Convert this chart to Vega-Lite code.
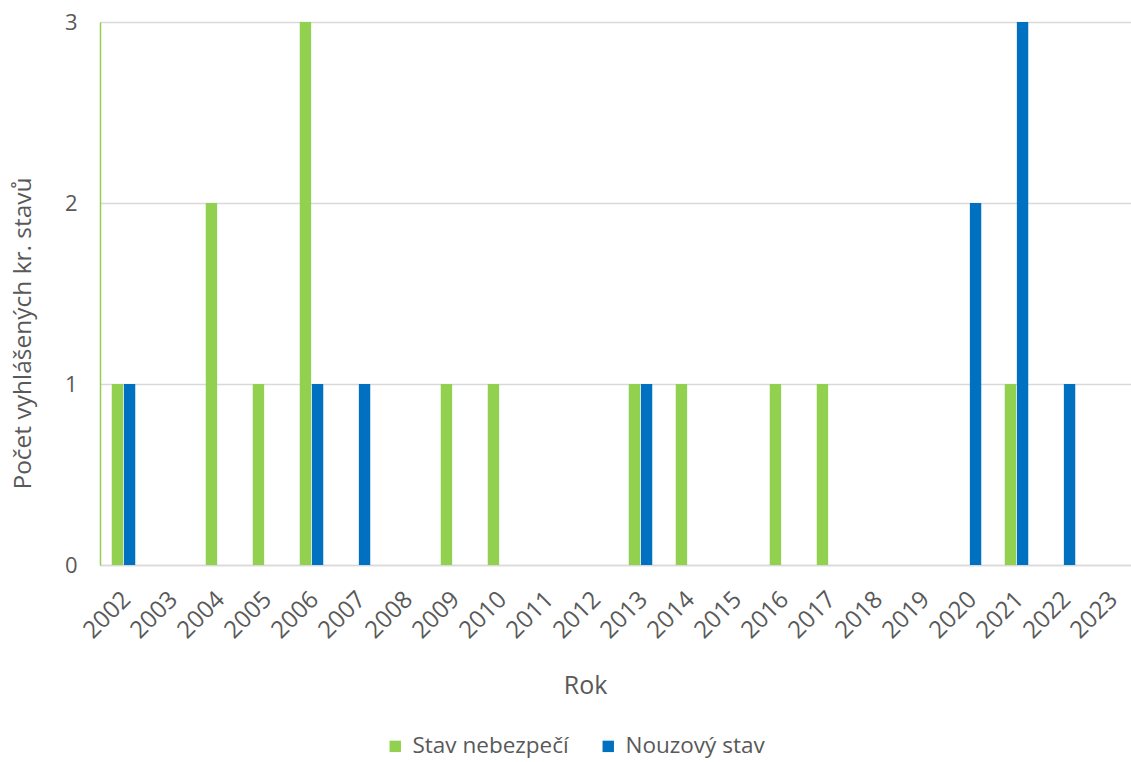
{
  "$schema": "https://vega.github.io/schema/vega-lite/v6.json",
  "autosize": {"type": "none"},
  "padding": {"left": 100, "top": 22, "right": 0, "bottom": 197},
  "width": 1034,
  "height": 543,
  "background": "white",
  "config": {
    "font": "Open Sans",
    "view": {"stroke": null},
    "axis": {"labelColor": "#595959", "titleColor": "#595959", "titleFontWeight": "normal"},
    "legend": {"labelColor": "#595959"}
  },
  "data": {
    "values": [
      {"Rok": "2002", "Stav": "Stav nebezpečí", "Pocet": 1},
      {"Rok": "2002", "Stav": "Nouzový stav", "Pocet": 1},
      {"Rok": "2003", "Stav": "Stav nebezpečí", "Pocet": 0},
      {"Rok": "2003", "Stav": "Nouzový stav", "Pocet": 0},
      {"Rok": "2004", "Stav": "Stav nebezpečí", "Pocet": 2},
      {"Rok": "2004", "Stav": "Nouzový stav", "Pocet": 0},
      {"Rok": "2005", "Stav": "Stav nebezpečí", "Pocet": 1},
      {"Rok": "2005", "Stav": "Nouzový stav", "Pocet": 0},
      {"Rok": "2006", "Stav": "Stav nebezpečí", "Pocet": 3},
      {"Rok": "2006", "Stav": "Nouzový stav", "Pocet": 1},
      {"Rok": "2007", "Stav": "Stav nebezpečí", "Pocet": 0},
      {"Rok": "2007", "Stav": "Nouzový stav", "Pocet": 1},
      {"Rok": "2008", "Stav": "Stav nebezpečí", "Pocet": 0},
      {"Rok": "2008", "Stav": "Nouzový stav", "Pocet": 0},
      {"Rok": "2009", "Stav": "Stav nebezpečí", "Pocet": 1},
      {"Rok": "2009", "Stav": "Nouzový stav", "Pocet": 0},
      {"Rok": "2010", "Stav": "Stav nebezpečí", "Pocet": 1},
      {"Rok": "2010", "Stav": "Nouzový stav", "Pocet": 0},
      {"Rok": "2011", "Stav": "Stav nebezpečí", "Pocet": 0},
      {"Rok": "2011", "Stav": "Nouzový stav", "Pocet": 0},
      {"Rok": "2012", "Stav": "Stav nebezpečí", "Pocet": 0},
      {"Rok": "2012", "Stav": "Nouzový stav", "Pocet": 0},
      {"Rok": "2013", "Stav": "Stav nebezpečí", "Pocet": 1},
      {"Rok": "2013", "Stav": "Nouzový stav", "Pocet": 1},
      {"Rok": "2014", "Stav": "Stav nebezpečí", "Pocet": 1},
      {"Rok": "2014", "Stav": "Nouzový stav", "Pocet": 0},
      {"Rok": "2015", "Stav": "Stav nebezpečí", "Pocet": 0},
      {"Rok": "2015", "Stav": "Nouzový stav", "Pocet": 0},
      {"Rok": "2016", "Stav": "Stav nebezpečí", "Pocet": 1},
      {"Rok": "2016", "Stav": "Nouzový stav", "Pocet": 0},
      {"Rok": "2017", "Stav": "Stav nebezpečí", "Pocet": 1},
      {"Rok": "2017", "Stav": "Nouzový stav", "Pocet": 0},
      {"Rok": "2018", "Stav": "Stav nebezpečí", "Pocet": 0},
      {"Rok": "2018", "Stav": "Nouzový stav", "Pocet": 0},
      {"Rok": "2019", "Stav": "Stav nebezpečí", "Pocet": 0},
      {"Rok": "2019", "Stav": "Nouzový stav", "Pocet": 0},
      {"Rok": "2020", "Stav": "Stav nebezpečí", "Pocet": 0},
      {"Rok": "2020", "Stav": "Nouzový stav", "Pocet": 2},
      {"Rok": "2021", "Stav": "Stav nebezpečí", "Pocet": 1},
      {"Rok": "2021", "Stav": "Nouzový stav", "Pocet": 3},
      {"Rok": "2022", "Stav": "Stav nebezpečí", "Pocet": 0},
      {"Rok": "2022", "Stav": "Nouzový stav", "Pocet": 1},
      {"Rok": "2023", "Stav": "Stav nebezpečí", "Pocet": 0},
      {"Rok": "2023", "Stav": "Nouzový stav", "Pocet": 0}
    ]
  },
  "mark": {"type": "bar"},
  "encoding": {
    "x": {
      "field": "Rok",
      "type": "ordinal",
      "sort": "ascending",
      "scale": {"paddingInner": 0.5, "paddingOuter": 0.25},
      "axis": {
        "title": "Rok",
        "titleFontSize": 25,
        "titleX": 485,
        "titleY": 120,
        "titleAlign": "center",
        "titleBaseline": "middle",
        "labelAngle": -45,
        "labelFontSize": 24,
        "labelPadding": 22,
        "labelOffset": -5,
        "ticks": false,
        "domainColor": "#D9D9D9",
        "domainWidth": 1.5,
        "grid": false
      }
    },
    "xOffset": {"field": "Stav", "type": "nominal", "sort": ["Stav nebezpečí", "Nouzový stav"], "scale": {"paddingInner": 0.06}},
    "y": {
      "field": "Pocet",
      "type": "quantitative",
      "scale": {"domain": [0, 3]},
      "axis": {
        "title": "Počet vyhlášených kr. stavů",
        "titleFontSize": 24.5,
        "titleX": -77,
        "titleY": 311,
        "titleAngle": -90,
        "titleAlign": "center",
        "titleBaseline": "middle",
        "values": [0, 1, 2, 3],
        "format": "d",
        "labelFontSize": 22,
        "labelPadding": 23,
        "ticks": false,
        "domainColor": "#92D050",
        "domainWidth": 1.5,
        "gridColor": "#D9D9D9",
        "gridWidth": 1.5
      }
    },
    "color": {
      "field": "Stav",
      "type": "nominal",
      "sort": ["Stav nebezpečí", "Nouzový stav"],
      "scale": {"domain": ["Stav nebezpečí", "Nouzový stav"], "range": ["#92D050", "#0070C0"]},
      "legend": {
        "title": null,
        "orient": "none",
        "direction": "horizontal",
        "legendX": 284,
        "legendY": 713,
        "symbolType": "square",
        "symbolSize": 130,
        "symbolStrokeWidth": 0,
        "labelFontSize": 22.5,
        "columnPadding": 28,
        "labelOffset": 6
      }
    }
  }
}
